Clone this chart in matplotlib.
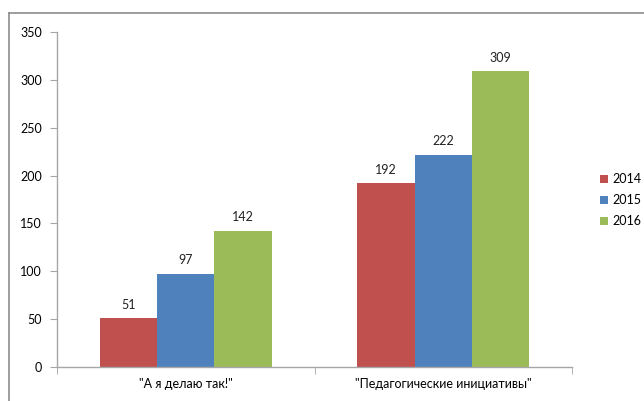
import numpy as np
import matplotlib.pyplot as plt
from matplotlib.lines import Line2D

plt.rcParams['font.family'] = ['Lato', 'Noto Sans', 'DejaVu Sans']

categories = ['"А я делаю так!"', '"Педагогические инициативы"']
years = ['2014', '2015', '2016']
values = {
    '2014': [51, 192],
    '2015': [97, 222],
    '2016': [142, 309],
}
colors = ['#C0504D', '#4F81BD', '#9BBB59']

W, H = 644, 401
fig = plt.figure(figsize=(W / 100, H / 100), dpi=100)
ax = fig.add_axes([57 / W, 1 - 367 / H, (572 - 57) / W, (367 - 32) / H])

x = np.arange(len(categories))
bw = 0.2226
for i, (yr, c) in enumerate(zip(years, colors)):
    pos = x + (i - 1) * bw
    bars = ax.bar(pos, values[yr], width=bw, color=c, label=yr, zorder=2)
    for b, v in zip(bars, values[yr]):
        ax.text(b.get_x() + b.get_width() / 2, v + 8, str(v), ha='center', va='bottom',
                fontsize=9, color='#222222')

ax.set_xlim(-0.5, 1.5)
ax.set_ylim(0, 350)
ax.set_yticks(range(0, 351, 50))
ax.set_xticks(x)
ax.set_xticklabels(categories, fontsize=9)
ax.set_xticks([-0.5, 0.5, 1.5], minor=True)
ax.tick_params(axis='x', which='major', length=0, pad=8)
ax.tick_params(axis='x', which='minor', length=5, color='#a6a6a6', direction='out')
ax.tick_params(axis='y', length=5, color='#a6a6a6', labelsize=9, pad=6)
for s in ['top', 'right']:
    ax.spines[s].set_visible(False)
for s in ['left', 'bottom']:
    ax.spines[s].set_color('#a6a6a6')
    ax.spines[s].set_linewidth(1)

ax.legend(loc='center left', bbox_to_anchor=(594 / W, 1 - 200 / H), bbox_transform=fig.transFigure,
          frameon=False, fontsize=9, handlelength=0.6, handleheight=0.6, handletextpad=0.4,
          labelspacing=0.72, borderpad=0)

# outer frame
fig.add_artist(Line2D([9 / W, 1], [1 - 13 / H, 1 - 13 / H], transform=fig.transFigure,
                      color='#8c8c8c', lw=1.2))
fig.add_artist(Line2D([9 / W, 9 / W], [0, 1 - 13 / H], transform=fig.transFigure,
                      color='#8c8c8c', lw=1.2))

fig.savefig('out.png', dpi=100)
